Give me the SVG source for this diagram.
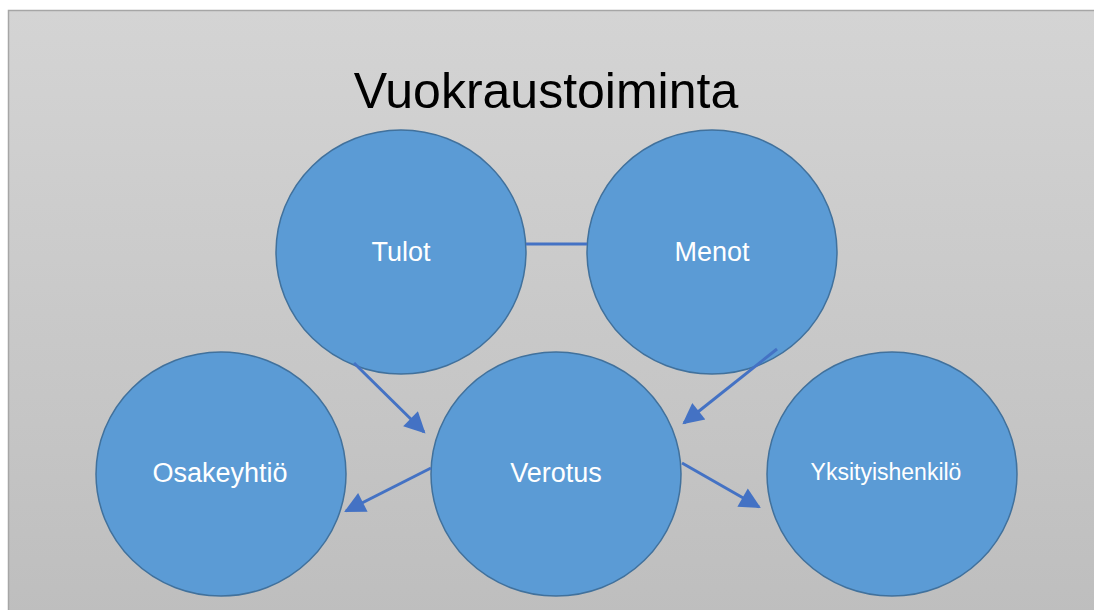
<svg xmlns="http://www.w3.org/2000/svg" width="1094" height="610" viewBox="0 0 1094 610">
<defs>
<linearGradient id="bg" x1="0" y1="0" x2="0" y2="1">
<stop offset="0" stop-color="#d4d4d4"/>
<stop offset="1" stop-color="#bebebe"/>
</linearGradient>
<marker id="arr" viewBox="0 0 10 10" refX="9" refY="5" markerWidth="7.5" markerHeight="7" markerUnits="strokeWidth" orient="auto">
<path d="M0,0 L10,5 L0,10 z" fill="#4472c4"/>
</marker>
<style>
.node{fill:#5b9bd5;stroke:#41719c;stroke-width:1.5}
.lbl{fill:#ffffff;font-family:"Liberation Sans",Arial,sans-serif;font-size:27px;text-anchor:middle}
.con{stroke:#4472c4;stroke-width:3;fill:none}
</style>
</defs>
<rect x="0" y="0" width="1094" height="610" fill="#ffffff"/>
<rect x="8.5" y="10.5" width="1090" height="605" fill="url(#bg)" stroke="#a6a6a6" stroke-width="1.5"/>
<text x="546" y="108" font-family="Liberation Sans,Arial,sans-serif" font-size="50" text-anchor="middle" fill="#000000">Vuokraustoiminta</text>
<g id="n-tulot"><ellipse class="node" cx="401" cy="252" rx="125" ry="122"/><text class="lbl" x="401" y="261">Tulot</text></g>
<g id="n-menot"><ellipse class="node" cx="712" cy="252" rx="125" ry="122"/><text class="lbl" x="712" y="261">Menot</text></g>
<g id="n-osakeyhtio"><ellipse class="node" cx="221" cy="474" rx="125" ry="122"/><text class="lbl" x="220" y="482">Osakeyhtiö</text></g>
<g id="n-verotus"><ellipse class="node" cx="556" cy="474" rx="125" ry="122"/><text class="lbl" x="556" y="482">Verotus</text></g>
<g id="n-yksityis"><ellipse class="node" cx="892" cy="474" rx="125" ry="122"/><text class="lbl" x="886" y="480" style="font-size:23px">Yksityishenkilö</text></g>
<g id="connectors">
<line class="con" x1="526" y1="244" x2="587" y2="244"/>
<line class="con" x1="354" y1="363" x2="424" y2="432" marker-end="url(#arr)"/>
<line class="con" x1="777" y1="349" x2="684" y2="423" marker-end="url(#arr)"/>
<line class="con" x1="431" y1="468" x2="346" y2="511" marker-end="url(#arr)"/>
<line class="con" x1="682" y1="463" x2="759" y2="507" marker-end="url(#arr)"/>
</g>
</svg>
